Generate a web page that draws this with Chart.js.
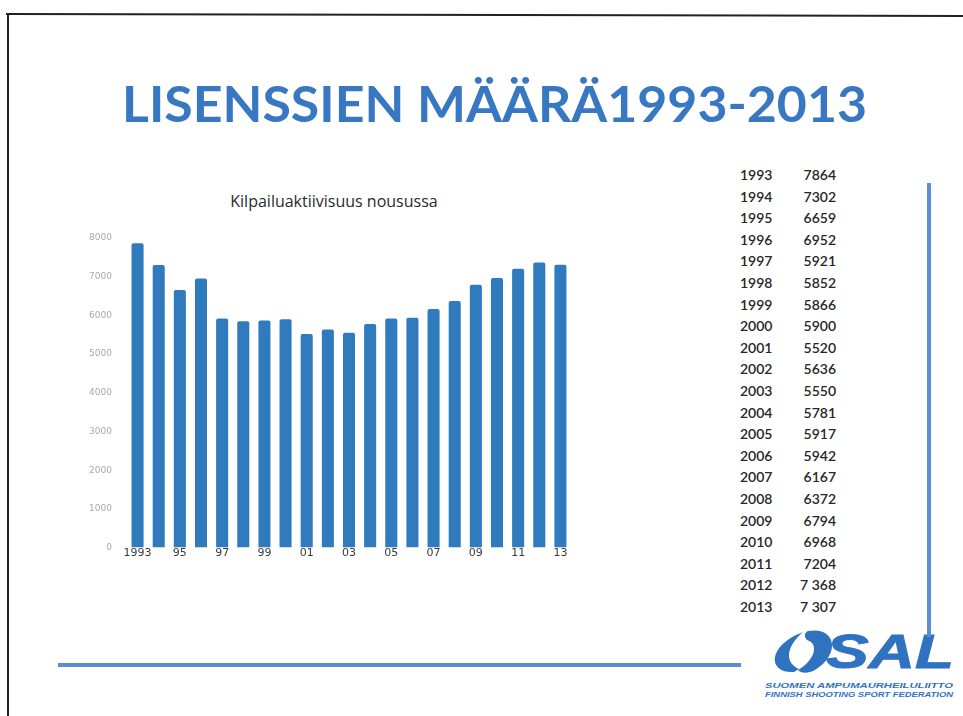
<!DOCTYPE html>
<html>
<head>
<meta charset="utf-8">
<script src="https://cdn.jsdelivr.net/npm/chart.js@4.4.0/dist/chart.umd.min.js"></script>
<style>
  html, body { margin:0; padding:0; background:#fff; }
  body { width:963px; height:716px; position:relative; overflow:hidden; font-family:'Lato', sans-serif; }
  #frameTop { position:absolute; left:6px; top:13px; width:957px; height:2px; background:#222; transform:rotate(0.12deg); transform-origin:left center; }
  #frameLeft { position:absolute; left:7px; top:13px; width:2px; height:703px; background:#222; }
  #chartBox { position:absolute; left:60px; top:185px; }
  #chartTitle { position:absolute; left:184px; width:300px; top:191px; text-align:center; font-family:'Open Sans', sans-serif; font-size:16px; line-height:20px; color:#2a2a2a; white-space:nowrap; }
  #tbl { position:absolute; left:0; top:0; width:963px; height:716px; }
  .yr, .val { position:absolute; font-family:'Lato', sans-serif; font-size:14px; font-weight:600; color:#262626; line-height:16px; height:16px; white-space:nowrap; }
  .yr { left:740px; }
  .val { right:127px; text-align:right; }
  #vline { position:absolute; left:927px; top:183px; width:4px; height:454px; background:#5b8fd3; }
  #hline { position:absolute; left:58px; top:663px; width:683px; height:4px; background:#5b8bd0; }
  svg.overlay { position:absolute; left:0; top:0; }
</style>
</head>
<body>
<div id="frameTop"></div>
<div id="frameLeft"></div>

<svg class="overlay" width="963" height="716">
  <text x="122" y="122" textLength="745" lengthAdjust="spacingAndGlyphs"
        font-family="Lato, 'Open Sans', sans-serif" font-weight="700" font-size="49" fill="#3877c2">LISENSSIEN MÄÄRÄ1993-2013</text>
  <!-- SAL logo -->
  <path d="M794 672 C768 674 766 646 803 632 C789 644 782 661 799 669 Z" fill="#2f73c0"/>
  <path d="M808 631 C835 626 842 653 815 670 C808 674 800 673 798 670 C814 661 820 644 807 640 C804 637 804 633 808 631 Z" fill="#2f73c0"/>
  <text x="826" y="668" textLength="128" lengthAdjust="spacingAndGlyphs"
        font-family="'Liberation Sans', Arial, sans-serif" font-weight="700" font-style="italic" font-size="48" fill="#2f73c0" stroke="#2f73c0" stroke-width="1">SAL</text>
  <text x="765" y="688" textLength="188" lengthAdjust="spacingAndGlyphs"
        font-family="'Liberation Sans', Arial, sans-serif" font-weight="700" font-style="italic" font-size="7" fill="#2f73c0">SUOMEN AMPUMAURHEILULIITTO</text>
  <text x="765" y="697" textLength="188" lengthAdjust="spacingAndGlyphs"
        font-family="'Liberation Sans', Arial, sans-serif" font-weight="700" font-style="italic" font-size="7" fill="#2f73c0">FINNISH SHOOTING SPORT FEDERATION</text>
</svg>

<div id="tbl"></div>
<div id="vline"></div>
<div id="hline"></div>

<div id="chartTitle"></div>
<div id="chartBox"><canvas id="c" width="550" height="383"></canvas></div>

<script>
// ---- data ----
const years = ['1993','1994','1995','1996','1997','1998','1999','2000','2001','2002','2003',
               '2004','2005','2006','2007','2008','2009','2010','2011','2012','2013'];
const licenses = [7864,7302,6659,6952,5921,5852,5866,5900,5520,5636,5550,
                  5781,5917,5942,6167,6372,6794,6968,7204,7368,7307];
const xTickLabels = ['1993','','95','','97','','99','','01','','03',
                     '','05','','07','','09','','11','','13'];
const tableValueLabels = ['7864','7302','6659','6952','5921','5852','5866','5900','5520','5636','5550',
                          '5781','5917','5942','6167','6372','6794','6968','7204','7 368','7 307'];
const chartTitle = 'Kilpailuaktiivisuus nousussa';

document.getElementById('chartTitle').textContent = chartTitle;

// ---- side table ----
const tbl = document.getElementById('tbl');
years.forEach((y, i) => {
  const top = 167 + i * 21.6;
  const a = document.createElement('div');
  a.className = 'yr'; a.style.top = top + 'px'; a.textContent = y;
  const b = document.createElement('div');
  b.className = 'val'; b.style.top = top + 'px'; b.textContent = tableValueLabels[i];
  tbl.appendChild(a); tbl.appendChild(b);
});

// ---- chart ----
Chart.defaults.devicePixelRatio = 1;
new Chart(document.getElementById('c'), {
  type: 'bar',
  data: {
    labels: years,
    datasets: [{
      data: licenses,
      backgroundColor: '#2f7bbd',
      barPercentage: 0.57,
      categoryPercentage: 1,
      borderRadius: 2,
      borderSkipped: 'bottom'
    }]
  },
  options: {
    responsive: false,
    animation: false,
    layout: { padding: { left: 0, right: 39, top: 53, bottom: 0 } },
    plugins: {
      legend: { display: false },
      tooltip: { enabled: false },
      title: { display: false }
    },
    scales: {
      x: {
        grid: { display: false, drawTicks: false },
        border: { display: false },
        ticks: {
          autoSkip: false, maxRotation: 0, minRotation: 0, padding: -1,
          color: '#3a3a3a',
          font: { family: "'DejaVu Sans', sans-serif", size: 11 },
          callback: (v, i) => xTickLabels[i]
        },
        afterFit: s => { s.height = 20; }
      },
      y: {
        min: 0, max: 8000,
        grid: { display: false, drawTicks: false },
        border: { display: false },
        ticks: {
          stepSize: 1000, padding: 15,
          color: '#a8a8a8',
          font: { family: "'DejaVu Sans', sans-serif", size: 9 },
          callback: v => String(v)
        },
        afterFit: s => { s.width = 67; }
      }
    }
  }
});
</script>
</body>
</html>
